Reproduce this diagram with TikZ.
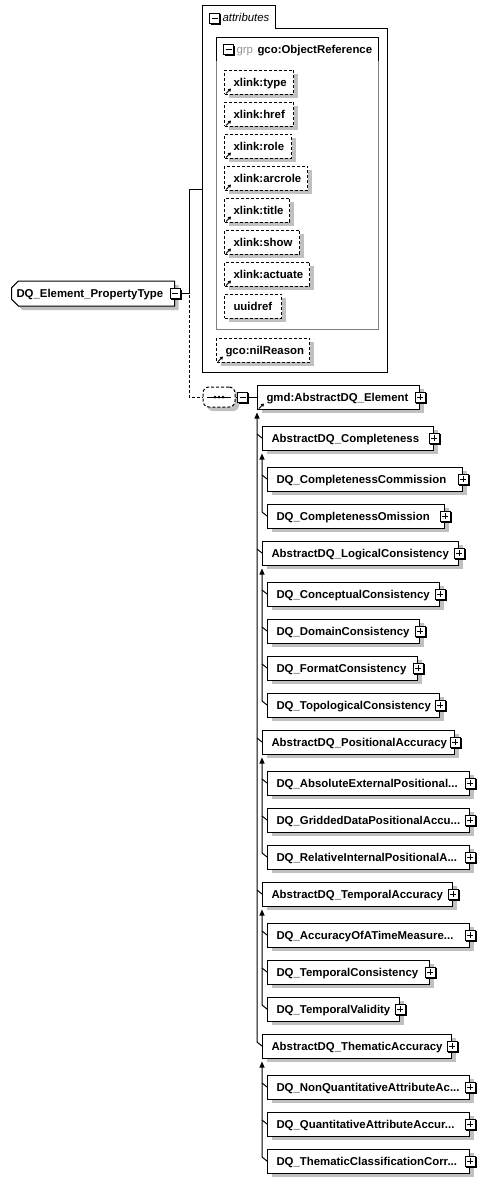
\documentclass[tikz,border=0pt]{standalone}
\usepackage{fontspec}
\newfontfamily\diafont{Liberation Sans}
\usepackage{tikz}
\usetikzlibrary{arrows.meta, shapes.misc, shadows}
\definecolor{shadowgray}{RGB}{192,192,192}
\definecolor{grpgray}{RGB}{128,128,128}
\definecolor{labelgray}{RGB}{150,150,150}
\newcommand{\elemfont}{\diafont\bfseries\fontsize{11.4}{13}\selectfont}
\hyphenpenalty=10000
\exhyphenpenalty=10000

\tikzset{
  elem/.style={draw, fill=white, anchor=west, font=\elemfont, align=left,
    text width=#1, text height=8.2pt, text depth=0pt, minimum height=24pt,
    inner xsep=9pt, inner ysep=0pt,
    drop shadow={shadow xshift=4pt, shadow yshift=-4pt, fill=shadowgray, opacity=1}},
  attrib/.style={elem=#1, dash pattern=on 3pt off 2pt},
  seqbox/.style={draw, fill=white, dash pattern=on 3pt off 2pt, rounded corners=6pt,
    minimum width=32pt, minimum height=20pt, inner sep=0pt,
    drop shadow={shadow xshift=4pt, shadow yshift=-4pt, fill=shadowgray, opacity=1}},
  subarrow/.style={-{Triangle[width=5pt,length=6pt]}, shorten >=3pt},
  expandbox/.pic={
    \draw[fill=white] (-5,-5) rectangle (5,5);
    \draw (-4,6) -- (6,6) -- (6,-4);
    \draw (-3,0) -- (3,0) (0,-3) -- (0,3);
  },
  collapsebox/.pic={
    \draw[fill=white] (-5,-5) rectangle (5,5);
    \draw (-4,6) -- (6,6) -- (6,-4);
    \draw (-3,0) -- (3,0);
  },
  refmark/.pic={
    \draw[line width=0.9pt, -{Triangle[width=3.5pt,length=3pt]}] (2,-1) -- (7,-6);
  },
}

\begin{document}
\begin{tikzpicture}[x=1pt, y=-1pt, line width=1pt]
\path[fill=white, use as bounding box] (0,0) rectangle (483,1183);

% Complex type
\node[elem=153pt, inner xsep=1pt, minimum height=25pt, chamfered rectangle,
  chamfered rectangle corners={north west,south west}, chamfered rectangle xsep=4pt]
  (ptype) at (11,293.5) {DQ\_Element\_PropertyType};

% Attributes container
\draw (202,372) -- (202,5) -- (275,5) -- (275,28) -- (387,28) -- (387,372) -- cycle;
\pic at (214.5,18) {collapsebox};
\node[anchor=base west, inner sep=0pt, font=\diafont\itshape\fontsize{11.4}{13}\selectfont]
  (attrtab) at (222,21) {attributes};
\coordinate (attrs) at (202,189);

% Attribute group
\draw[grpgray] (216,61) -- (216,329) -- (378,329) -- (378,61);
\draw (216,61) -- (216,37) -- (378,37) -- (378,61);
\pic at (228.5,49.5) {collapsebox};
\node[anchor=base west, inner sep=0pt, font=\diafont\fontsize{11.4}{13}\selectfont, text=labelgray]
  (grptag) at (236,53) {grp};
\node[anchor=base west, inner sep=0pt, font=\elemfont] (grpname) at (257,53) {gco:ObjectReference};

% Attributes
\node[attrib=51pt] (xtype) at (224,82) {xlink:type};
\node[attrib=51pt] (xhref) at (224,114) {xlink:href};
\node[attrib=49pt] (xrole) at (224,146) {xlink:role};
\node[attrib=65pt] (xarcrole) at (224,178) {xlink:arcrole};
\node[attrib=47pt] (xtitle) at (224,210) {xlink:title};
\node[attrib=57pt] (xshow) at (224,242) {xlink:show};
\node[attrib=67pt] (xactuate) at (224,274) {xlink:actuate};
\node[attrib=39pt] (uuidref) at (224,306) {uuidref};
\node[attrib=75pt] (nilreason) at (216,350) {gco:nilReason};
\pic at (xtype.south west) {refmark};
\pic at (xhref.south west) {refmark};
\pic at (xrole.south west) {refmark};
\pic at (xarcrole.south west) {refmark};
\pic at (xtitle.south west) {refmark};
\pic at (xshow.south west) {refmark};
\pic at (xactuate.south west) {refmark};
\pic at (nilreason.south west) {refmark};

% Sequence and root element
\node[seqbox] (seq) at (219,397) {};
\node[elem=144pt] (elem) at (257,397) {gmd:AbstractDQ\_Element};
\pic at (elem.south west) {refmark};

% Abstract groups
\node[elem=153pt] (cmp) at (262,438) {AbstractDQ\_Completeness};
\node[elem=178pt] (lgc) at (262,553) {AbstractDQ\_LogicalConsistency};
\node[elem=174pt] (pos) at (262,742) {AbstractDQ\_PositionalAccuracy};
\node[elem=172pt] (tmp) at (262,894) {AbstractDQ\_TemporalAccuracy};
\node[elem=171pt] (thm) at (262,1046) {AbstractDQ\_ThematicAccuracy};

% Concrete types
\node[elem=177pt] (cmpcom) at (267,479) {DQ\_CompletenessCommission};
\node[elem=159pt] (cmpomi) at (267,516) {DQ\_CompletenessOmission};
\node[elem=154pt] (lgccon) at (267,594) {DQ\_ConceptualConsistency};
\node[elem=134pt] (lgcdom) at (267,631) {DQ\_DomainConsistency};
\node[elem=132pt] (lgcfmt) at (267,668) {DQ\_FormatConsistency};
\node[elem=154pt] (lgctop) at (267,705) {DQ\_TopologicalConsistency};
\node[elem=184pt] (posabs) at (267,783) {DQ\_AbsoluteExternalPositional...};
\node[elem=184pt] (posgrd) at (267,820) {DQ\_GriddedDataPositionalAccu...};
\node[elem=184pt] (posrel) at (267,857) {DQ\_RelativeInternalPositionalA...};
\node[elem=184pt] (tmpacc) at (267,935) {DQ\_AccuracyOfATimeMeasure...};
\node[elem=144pt] (tmpcon) at (267,972) {DQ\_TemporalConsistency};
\node[elem=114pt] (tmpval) at (267,1009) {DQ\_TemporalValidity};
\node[elem=184pt] (thmnon) at (267,1087) {DQ\_NonQuantitativeAttributeAc...};
\node[elem=184pt] (thmqua) at (267,1124) {DQ\_QuantitativeAttributeAccur...};
\node[elem=184pt] (thmcls) at (267,1161) {DQ\_ThematicClassificationCorr...};

% Connectors from the complex type
\draw (ptype.east) -- ++(14,0) |- (attrs);
\draw[dash pattern=on 3pt off 2pt] (ptype.east) -- ++(14,0) |- (seq.west);
\draw (seq.east) -- (elem.west);
\draw ([xshift=-12pt]seq.center) -- ([xshift=12pt]seq.center);
\fill ([xshift=-4pt]seq.center) circle (1.5pt) (seq.center) circle (1.5pt)
  ([xshift=4pt]seq.center) circle (1.5pt);

% Substitution lines
\draw[subarrow] (thm.west) -- ++(-5,-4) -- (elem.south west);
\draw (cmp.west) -- ++(-5,-4) (lgc.west) -- ++(-5,-4) (pos.west) -- ++(-5,-4)
  (tmp.west) -- ++(-5,-4);
\draw[subarrow] (cmpomi.west) -- ++(-5,-4) -- (cmp.south west);
\draw (cmpcom.west) -- ++(-5,-4);
\draw[subarrow] (lgctop.west) -- ++(-5,-4) -- (lgc.south west);
\draw (lgccon.west) -- ++(-5,-4) (lgcdom.west) -- ++(-5,-4) (lgcfmt.west) -- ++(-5,-4);
\draw[subarrow] (posrel.west) -- ++(-5,-4) -- (pos.south west);
\draw (posabs.west) -- ++(-5,-4) (posgrd.west) -- ++(-5,-4);
\draw[subarrow] (tmpval.west) -- ++(-5,-4) -- (tmp.south west);
\draw (tmpacc.west) -- ++(-5,-4) (tmpcon.west) -- ++(-5,-4);
\draw[subarrow] (thmcls.west) -- ++(-5,-4) -- (thm.south west);
\draw (thmnon.west) -- ++(-5,-4) (thmqua.west) -- ++(-5,-4);

% Expand and collapse buttons
\pic at (ptype.east) {collapsebox};
\pic at ([xshift=7pt]seq.east) {collapsebox};
\pic at (elem.east) {expandbox};
\pic at (cmp.east) {expandbox};
\pic at (lgc.east) {expandbox};
\pic at (pos.east) {expandbox};
\pic at (tmp.east) {expandbox};
\pic at (thm.east) {expandbox};
\pic at (cmpcom.east) {expandbox};
\pic at (cmpomi.east) {expandbox};
\pic at (lgccon.east) {expandbox};
\pic at (lgcdom.east) {expandbox};
\pic at (lgcfmt.east) {expandbox};
\pic at (lgctop.east) {expandbox};
\pic at (posabs.east) {expandbox};
\pic at (posgrd.east) {expandbox};
\pic at (posrel.east) {expandbox};
\pic at (tmpacc.east) {expandbox};
\pic at (tmpcon.east) {expandbox};
\pic at (tmpval.east) {expandbox};
\pic at (thmnon.east) {expandbox};
\pic at (thmqua.east) {expandbox};
\pic at (thmcls.east) {expandbox};
\end{tikzpicture}
\end{document}
